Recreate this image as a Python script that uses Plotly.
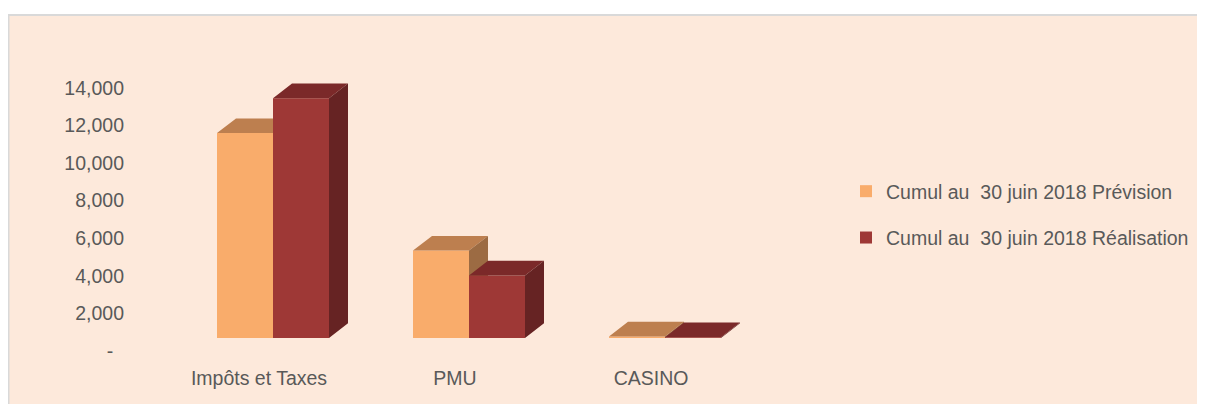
import plotly.graph_objects as go

# donnees
categories = ["Impôts et Taxes", "PMU", "CASINO"]
prevision = [10900, 4650, 80]
realisation = [12750, 3330, 45]
noms = ["Cumul au\u00a0 30 juin 2018 Prévision", "Cumul au\u00a0 30 juin 2018 Réalisation"]
y_ticks = [0, 2000, 4000, 6000, 8000, 10000, 12000, 14000]
y_ticktext = ["-\u00a0\u00a0", "2,000", "4,000", "6,000", "8,000", "10,000", "12,000", "14,000"]

# couleurs (face avant, dessus, cote)
couleurs = [
    ("#F9AC6B", "#BD7F4F", "#9C6B43"),
    ("#9E3836", "#7B2929", "#662323"),
]

# la page ajoute une marge de 8 px autour de la figure
W, H = 1189, 396
ml, mr, mt, mb = 120, 2, 39, 66
pw, ph = W - ml - mr, H - mt - mb
px_cat = 196.0          # pixels par categorie
px_val = 18.8 / 1000.0  # pixels par unite
x0 = -(265 - ml) / px_cat
x1 = x0 + pw / px_cat
ymax = ph / px_val

larg = 56 / px_cat          # largeur d'une barre
dx = 19 / px_cat            # profondeur en x
dy = 14.7 / px_val          # profondeur en y


def faces(vals, decal):
    av_x, av_y, de_x, de_y, co_x, co_y = [], [], [], [], [], []
    for i, v in enumerate(vals):
        a = i + decal
        b = a + larg
        av_x += [a, b, b, a, a, None]
        av_y += [0, 0, v, v, 0, None]
        de_x += [a, b, b + dx, a + dx, a, None]
        de_y += [v, v, v + dy, v + dy, v, None]
        co_x += [b, b + dx, b + dx, b, b, None]
        co_y += [0, dy, v + dy, v, 0, None]
    return (av_x, av_y), (de_x, de_y), (co_x, co_y)


fig = go.Figure()

for k, (vals, decal) in enumerate([(prevision, -larg), (realisation, 0.0)]):
    for (fx, fy), col in zip(faces(vals, decal), couleurs[k]):
        fig.add_trace(go.Scatter(
            x=fx, y=fy, mode="none", fill="toself", fillcolor=col,
            showlegend=False, hoverinfo="skip"))

# entrees de legende
for k in range(2):
    fig.add_trace(go.Scatter(
        x=[None], y=[None], mode="markers", name=noms[k],
        legendgroup=str(k),
        marker=dict(symbol="square", size=12, color=couleurs[k][0])))

police = dict(family="Liberation Sans, Arial, sans-serif", size=19.5, color="#595959")

fig.update_layout(
    width=W, height=H,
    margin=dict(l=ml, r=mr, t=mt, b=mb, autoexpand=False),
    paper_bgcolor="white",
    plot_bgcolor="rgba(0,0,0,0)",
    font=police,
    showlegend=True,
    legend=dict(
        x=(838 - ml) / pw, y=(H - mb - 164) / ph, xanchor="left", yanchor="top",
        traceorder="grouped", tracegroupgap=18,
        bgcolor="rgba(0,0,0,0)", font=police, itemwidth=30),
    xaxis=dict(
        range=[x0, x1], tickvals=[0, 1, 2], ticktext=categories,
        showgrid=False, zeroline=False, showline=False, ticks="",
        ticklabelshift=-14, ticklabelstandoff=26, fixedrange=True),
    yaxis=dict(
        range=[0, ymax], tickvals=y_ticks, ticktext=y_ticktext,
        showgrid=False, zeroline=False, showline=False, ticks="",
        ticklabelshift=13, ticklabelstandoff=3, fixedrange=True),
    shapes=[dict(
        type="rect", xref="paper", yref="paper", layer="below",
        x0=(0.5 - ml) / pw, x1=(W + 20 - ml) / pw,
        y0=(H - mb - (H + 20)) / ph, y1=(H - mb - 7) / ph,
        fillcolor="#FDE9DB", line=dict(color="#D9D9D9", width=2))],
)

fig.write_html("out.html")
